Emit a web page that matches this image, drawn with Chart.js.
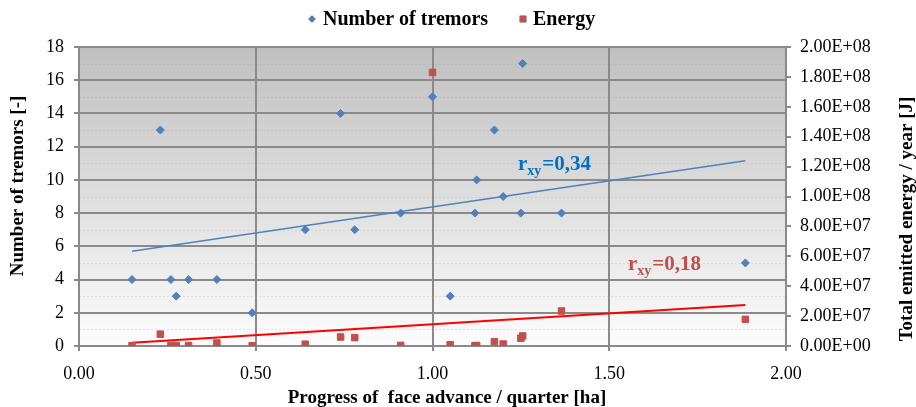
<!DOCTYPE html>
<html><head><meta charset="utf-8">
<script src="https://cdn.jsdelivr.net/npm/chart.js@4/dist/chart.umd.min.js"></script>
<style>html,body{margin:0;padding:0;background:#fff;}#wrap{width:916px;height:407px;}</style>
</head><body><div id="wrap"><canvas id="c" width="916" height="407"></canvas></div>
<script>
// ---- data ----
const advance = [0.15, 0.23, 0.26, 0.275, 0.31, 0.39, 0.49, 0.64, 0.74, 0.78, 0.91, 1.00, 1.05, 1.12, 1.125, 1.175, 1.20, 1.25, 1.255, 1.365, 1.885];
const tremors = [4, 13, 4, 3, 4, 4, 2, 7, 14, 7, 8, 15, 3, 8, 10, 13, 9, 8, 17, 8, 5];
const energy  = [0.2e6, 7.9e6, 0.3e6, 0.3e6, 0.3e6, 2.0e6, 0.2e6, 1.2e6, 6.0e6, 5.6e6, 0.4e6, 1.83e8, 0.8e6, 0.2e6, 0.3e6, 2.9e6, 1.3e6, 5.2e6, 6.7e6, 2.34e7, 1.78e7];
const trendAdvance = [0.15, 1.885];
const tremorsTrend = [5.7, 11.15];
const energyTrend  = [2.2e6, 2.75e7];
const xTicks = [0, 0.5, 1, 1.5, 2];
const tremorTicks = [0, 2, 4, 6, 8, 10, 12, 14, 16, 18];
const energyTicks = [0, 2e7, 4e7, 6e7, 8e7, 1e8, 1.2e8, 1.4e8, 1.6e8, 1.8e8, 2e8];
const seriesNames = ['Number of tremors', 'Energy'];
const rTremors = '0,34';
const rEnergy = '0,18';

const BLUE = '#4F81BD', RED = '#C0504D', GRID = '#8a8a8a';
const FONT = '"Liberation Serif", "Times New Roman", serif';

function fmtE(v){
  if (Math.abs(v) < 1) return '0.00E+00';
  const e = Math.floor(Math.log10(v) + 1e-9);
  const m = v / Math.pow(10, e);
  return m.toFixed(2) + 'E+' + String(e).padStart(2, '0');
}
const pts = (xs, ys) => xs.map((x, i) => ({x, y: ys[i]}));

function rxy(ctx, x, y, val, color){
  ctx.save();
  ctx.fillStyle = color; ctx.textAlign = 'left'; ctx.textBaseline = 'alphabetic';
  ctx.font = 'bold 21px ' + FONT; ctx.fillText('r', x, y);
  let w = ctx.measureText('r').width;
  ctx.font = 'bold 14px ' + FONT; ctx.fillText('xy', x + w, y + 5);
  w += ctx.measureText('xy').width;
  ctx.font = 'bold 21px ' + FONT; ctx.fillText('=' + val, x + w + 1, y);
  ctx.restore();
}

const deco = {
  id: 'deco',
  beforeDraw(chart){
    const {ctx, chartArea: a} = chart;
    ctx.save();
    const g = ctx.createLinearGradient(0, a.top, 0, a.bottom);
    g.addColorStop(0, '#c0c0c0'); g.addColorStop(1, '#fcfcfc');
    ctx.fillStyle = g;
    ctx.fillRect(a.left, a.top, a.right - a.left, a.bottom - a.top);
    const ys = chart.scales.y;
    ctx.strokeStyle = 'rgba(150,150,150,0.22)'; ctx.lineWidth = 1; ctx.setLineDash([2, 2]);
    for (let v = 1; v < 18; v += 2){
      const py = Math.round(ys.getPixelForValue(v)) + 0.5;
      ctx.beginPath(); ctx.moveTo(a.left, py); ctx.lineTo(a.right, py); ctx.stroke();
    }
    ctx.restore();
  },
  afterDraw(chart){
    const {ctx} = chart;
    const xs = chart.scales.x, ys = chart.scales.y;
    ctx.save();
    ctx.fillStyle = '#000';
    // x title
    ctx.font = 'bold 19px ' + FONT; ctx.textAlign = 'center'; ctx.textBaseline = 'middle';
    ctx.fillText('Progress of  face advance / quarter [ha]', 447, 398);
    // left title
    ctx.save(); ctx.translate(18, 186); ctx.rotate(-Math.PI / 2);
    ctx.fillText('Number of tremors [-]', 0, 0); ctx.restore();
    // right title
    ctx.save(); ctx.translate(907, 219); ctx.rotate(-Math.PI / 2);
    ctx.fillText('Total emitted energy / year [J]', 0, 0); ctx.restore();
    // legend
    const ds = chart.data.datasets;
    ctx.font = 'bold 20px ' + FONT; ctx.textAlign = 'left'; ctx.textBaseline = 'alphabetic';
    const items = [{i: 0, mx: 312, tx: 323}, {i: 1, mx: 523, tx: 533}];
    items.forEach(it => {
      const d = ds[it.i];
      Chart.helpers.drawPoint(ctx, {pointStyle: d.pointStyle, radius: it.i === 0 ? 3.5 : 4.6, borderWidth: 0}, it.mx, 19);
      ctx.fillStyle = d.backgroundColor; ctx.fill();
      ctx.fillStyle = '#000';
      ctx.fillText(d.label, it.tx, 25);
    });
    // correlation labels
    rxy(ctx, xs.getPixelForValue(1.242), ys.getPixelForValue(10.57), rTremors, '#0070C0');
    rxy(ctx, xs.getPixelForValue(1.553), ys.getPixelForValue(4.55), rEnergy, RED);
    ctx.restore();
  }
};

const tickFont = {family: FONT, size: 18};
new Chart(document.getElementById('c'), {
  type: 'scatter',
  data: {
    datasets: [
      {label: seriesNames[0], data: pts(advance, tremors), yAxisID: 'y', pointStyle: 'rectRot',
       backgroundColor: BLUE, borderColor: BLUE, borderWidth: 1, pointRadius: 4, pointHoverRadius: 4},
      {label: seriesNames[1], data: pts(advance, energy), yAxisID: 'y1', pointStyle: 'rect',
       backgroundColor: RED, borderColor: RED, borderWidth: 1, pointRadius: 4.6, pointHoverRadius: 4.6},
      {label: 'trend tremors', data: pts(trendAdvance, tremorsTrend), yAxisID: 'y', showLine: true,
       borderColor: BLUE, borderWidth: 1.5, pointRadius: 0, fill: false},
      {label: 'trend energy', data: pts(trendAdvance, energyTrend), yAxisID: 'y1', showLine: true,
       borderColor: '#FF0000', borderWidth: 2, pointRadius: 0, fill: false}
    ]
  },
  options: {
    responsive: false, animation: false,
    layout: {padding: {top: 47, left: 0, right: 0, bottom: 0}},
    plugins: {legend: {display: false}, tooltip: {enabled: false}},
    scales: {
      x: {
        type: 'linear', min: 0, max: 2,
        afterBuildTicks: s => { s.ticks = xTicks.map(v => ({value: v})); },
        afterFit: s => { s.height = 61; },
        ticks: {font: tickFont, color: '#000', padding: 12, callback: v => Number(v).toFixed(2), maxRotation: 0},
        grid: {color: GRID, lineWidth: 2, tickLength: 5, tickColor: GRID},
        border: {color: GRID, width: 2}
      },
      y: {
        type: 'linear', position: 'left', min: 0, max: 18,
        afterBuildTicks: s => { s.ticks = tremorTicks.map(v => ({value: v})); },
        afterFit: s => { s.width = 79; },
        ticks: {font: tickFont, color: '#000', padding: 10},
        grid: {color: GRID, lineWidth: 2, tickLength: 5, tickColor: GRID},
        border: {color: GRID, width: 2}
      },
      y1: {
        type: 'linear', position: 'right', min: 0, max: 2e8,
        afterBuildTicks: s => { s.ticks = energyTicks.map(v => ({value: v})); },
        afterFit: s => { s.width = 130; },
        ticks: {font: tickFont, color: '#000', padding: 9, callback: v => fmtE(v)},
        grid: {drawOnChartArea: false, color: GRID, lineWidth: 2, tickLength: 5, tickColor: GRID},
        border: {color: GRID, width: 2}
      }
    }
  },
  plugins: [deco]
});
</script></body></html>
